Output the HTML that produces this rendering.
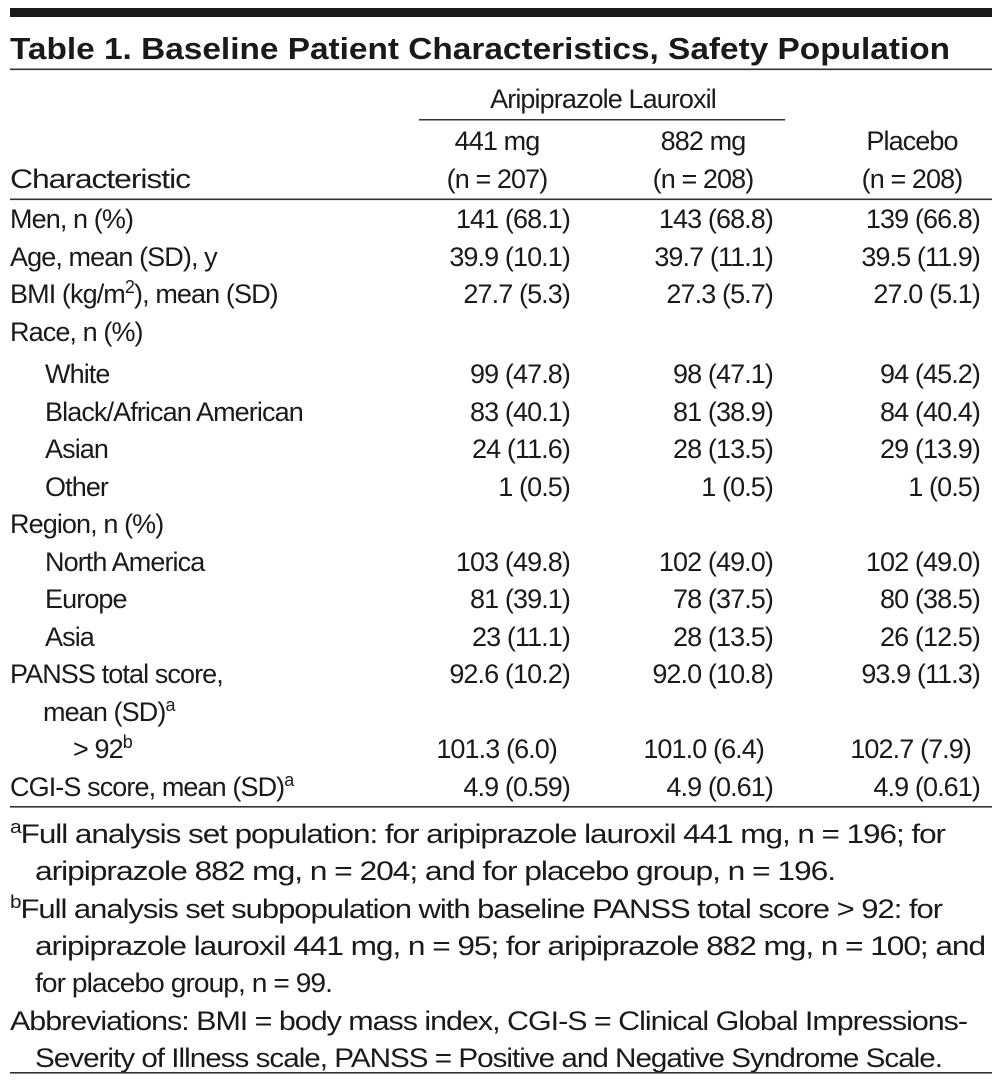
<!DOCTYPE html>
<html><head><meta charset="utf-8"><style>
html,body{margin:0;padding:0;background:#fff;}
svg{display:block;}
text{font-family:"Liberation Sans",sans-serif;fill:#1a1a1a;font-size:27px;letter-spacing:-0.9px;}
.r{text-anchor:end;}
.c{text-anchor:middle;}
</style></head><body>
<svg width="1002" height="1081" viewBox="0 0 1002 1081" xmlns="http://www.w3.org/2000/svg">
<rect x="10" y="8" width="982" height="9" fill="#1a1a1a"/>
<text x="10" y="59" style="font-weight:bold;font-size:31px;letter-spacing:0" textLength="940" lengthAdjust="spacingAndGlyphs">Table 1. Baseline Patient Characteristics, Safety Population</text>
<rect x="10" y="68.5" width="982" height="1.6" fill="#333"/>
<text x="603" y="108" class="c">Aripiprazole Lauroxil</text>
<rect x="419" y="119" width="366" height="1.5" fill="#333"/>
<text x="497" y="150" class="c">441 mg</text>
<text x="703" y="150" class="c">882 mg</text>
<text x="912" y="150" class="c">Placebo</text>
<text x="10" y="188" textLength="180" lengthAdjust="spacingAndGlyphs">Characteristic</text>
<text x="497" y="188" class="c">(n = 207)</text>
<text x="703" y="188" class="c">(n = 208)</text>
<text x="912" y="188" class="c">(n = 208)</text>
<rect x="10" y="198.5" width="982" height="1.6" fill="#333"/>

<g>
<text x="10" y="228">Men, n (%)</text>
<text x="570" y="228" class="r">141 (68.1)</text><text x="773" y="228" class="r">143 (68.8)</text><text x="980" y="228" class="r">139 (66.8)</text>
<text x="10" y="266">Age, mean (SD), y</text>
<text x="570" y="266" class="r">39.9 (10.1)</text><text x="773" y="266" class="r">39.7 (11.1)</text><text x="980" y="266" class="r">39.5 (11.9)</text>
<text x="10" y="303">BMI (kg/m<tspan font-size="18" dy="-10">2</tspan><tspan dy="10">), mean (SD)</tspan></text>
<text x="570" y="303" class="r">27.7 (5.3)</text><text x="773" y="303" class="r">27.3 (5.7)</text><text x="980" y="303" class="r">27.0 (5.1)</text>
<text x="10" y="341">Race, n (%)</text>
<text x="45" y="383">White</text>
<text x="570" y="383" class="r">99 (47.8)</text><text x="773" y="383" class="r">98 (47.1)</text><text x="980" y="383" class="r">94 (45.2)</text>
<text x="45" y="421">Black/African American</text>
<text x="570" y="421" class="r">83 (40.1)</text><text x="773" y="421" class="r">81 (38.9)</text><text x="980" y="421" class="r">84 (40.4)</text>
<text x="45" y="458">Asian</text>
<text x="570" y="458" class="r">24 (11.6)</text><text x="773" y="458" class="r">28 (13.5)</text><text x="980" y="458" class="r">29 (13.9)</text>
<text x="45" y="496">Other</text>
<text x="570" y="496" class="r">1 (0.5)</text><text x="773" y="496" class="r">1 (0.5)</text><text x="980" y="496" class="r">1 (0.5)</text>
<text x="10" y="533">Region, n (%)</text>
<text x="45" y="571">North America</text>
<text x="570" y="571" class="r">103 (49.8)</text><text x="773" y="571" class="r">102 (49.0)</text><text x="980" y="571" class="r">102 (49.0)</text>
<text x="45" y="608">Europe</text>
<text x="570" y="608" class="r">81 (39.1)</text><text x="773" y="608" class="r">78 (37.5)</text><text x="980" y="608" class="r">80 (38.5)</text>
<text x="45" y="646">Asia</text>
<text x="570" y="646" class="r">23 (11.1)</text><text x="773" y="646" class="r">28 (13.5)</text><text x="980" y="646" class="r">26 (12.5)</text>
<text x="10" y="683">PANSS total score,</text>
<text x="570" y="683" class="r">92.6 (10.2)</text><text x="773" y="683" class="r">92.0 (10.8)</text><text x="980" y="683" class="r">93.9 (11.3)</text>
<text x="43" y="721">mean (SD)<tspan font-size="18" dy="-10">a</tspan></text>
<text x="73" y="758">&gt; 92<tspan font-size="18" dy="-10">b</tspan></text>
<text x="557" y="758" class="r">101.3 (6.0)</text><text x="764" y="758" class="r">101.0 (6.4)</text><text x="971" y="758" class="r">102.7 (7.9)</text>
<text x="10" y="796">CGI-S score, mean (SD)<tspan font-size="18" dy="-10">a</tspan></text>
<text x="570" y="796" class="r">4.9 (0.59)</text><text x="773" y="796" class="r">4.9 (0.61)</text><text x="980" y="796" class="r">4.9 (0.61)</text>
</g>
<rect x="10" y="806" width="982" height="1.6" fill="#333"/>

<text x="10" y="843" textLength="935" lengthAdjust="spacingAndGlyphs"><tspan font-size="18" dy="-10">a</tspan><tspan dy="10">Full analysis set population: for aripiprazole lauroxil 441 mg, n = 196; for</tspan></text>
<text x="35" y="880" textLength="800" lengthAdjust="spacingAndGlyphs">aripiprazole 882 mg, n = 204; and for placebo group, n = 196.</text>
<text x="10" y="918" textLength="932" lengthAdjust="spacingAndGlyphs"><tspan font-size="18" dy="-10">b</tspan><tspan dy="10">Full analysis set subpopulation with baseline PANSS total score &gt; 92: for</tspan></text>
<text x="35" y="955" textLength="950" lengthAdjust="spacingAndGlyphs">aripiprazole lauroxil 441 mg, n = 95; for aripiprazole 882 mg, n = 100; and</text>
<text x="35" y="992" textLength="297" lengthAdjust="spacingAndGlyphs">for placebo group, n = 99.</text>
<text x="10" y="1030" textLength="957" lengthAdjust="spacingAndGlyphs">Abbreviations: BMI = body mass index, CGI-S = Clinical Global Impressions-</text>
<text x="35" y="1067" textLength="907" lengthAdjust="spacingAndGlyphs">Severity of Illness scale, PANSS = Positive and Negative Syndrome Scale.</text>
<rect x="10" y="1072" width="982" height="1.6" fill="#333"/>
</svg>
</body></html>
